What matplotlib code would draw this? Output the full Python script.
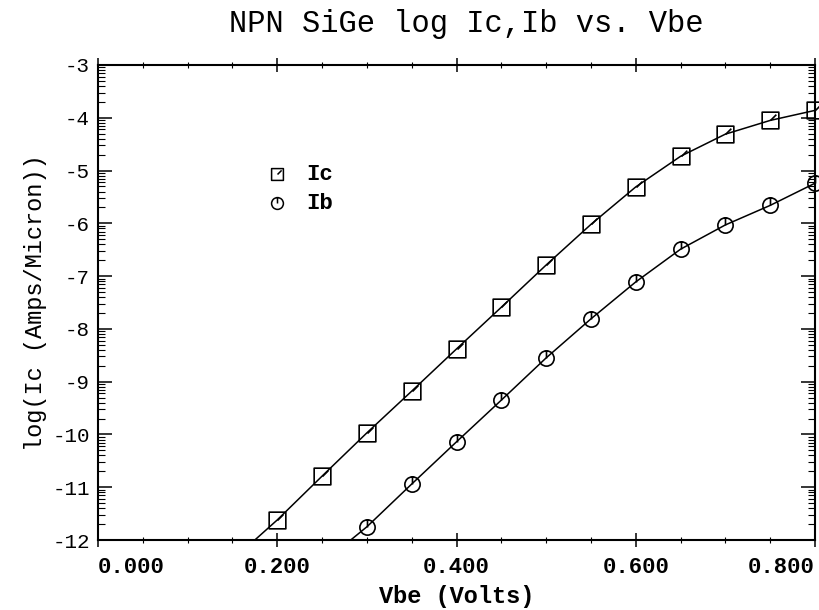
import numpy as np
import matplotlib
matplotlib.use("Agg")
import matplotlib.pyplot as plt
from matplotlib.ticker import FixedLocator, MultipleLocator
from matplotlib.path import Path

# Data
vbe_ic = [0.20, 0.25, 0.30, 0.35, 0.40, 0.45, 0.50, 0.55, 0.60, 0.65, 0.70, 0.75, 0.80]
log_ic = [-11.62, -10.79, -9.97, -9.18, -8.38, -7.59, -6.79, -6.02, -5.31, -4.73, -4.31, -4.05, -3.86]

vbe_ib = [0.30, 0.35, 0.40, 0.45, 0.50, 0.55, 0.60, 0.65, 0.70, 0.75, 0.80]
log_ib = [-11.75, -10.94, -10.14, -9.35, -8.55, -7.81, -7.11, -6.49, -6.03, -5.66, -5.24]

# curve continues below the first marker down to the axis
vbe_ic_start = [0.175]
log_ic_start = [-12.0]
vbe_ib_start = [0.282]
log_ib_start = [-12.0]

xticks = [0.0, 0.2, 0.4, 0.6, 0.8]
xticklabels = ["0.000", "0.200", "0.400", "0.600", "0.800"]
yticks = [-12, -11, -10, -9, -8, -7, -6, -5, -4, -3]

plt.rcParams['font.family'] = ['Liberation Mono', 'DejaVu Sans Mono']

# markers with the small inner tick seen in the reference
sq = Path.unit_rectangle()
sq = Path(sq.vertices - 0.5, sq.codes)
sq_marker = Path.make_compound_path(sq, Path([(0, 0), (0.35, 0.35)], [Path.MOVETO, Path.LINETO]))
circ = Path.unit_circle()
circ_marker = Path.make_compound_path(circ, Path([(0, 0), (0, 1)], [Path.MOVETO, Path.LINETO]))

fig = plt.figure(figsize=(8.19, 6.10), dpi=100)
ax = fig.add_axes([98/819, 1-540/610, (815-98)/819, (540-65)/610])

ax.plot(vbe_ic_start + vbe_ic, log_ic_start + log_ic, color='black', lw=1.1, zorder=2)
ax.plot(vbe_ib_start + vbe_ib, log_ib_start + log_ib, color='black', lw=1.1, zorder=2)
ax.plot(vbe_ic, log_ic, ls='none', marker=sq_marker, ms=12, mfc='none', mec='black', mew=1.2,
        clip_on=False, zorder=3)
ax.plot(vbe_ib, log_ib, ls='none', marker=circ_marker, ms=11, mfc='none', mec='black', mew=1.2,
        clip_on=False, zorder=3)

ax.set_xlim(0.0, 0.8)
ax.set_ylim(-12, -3)

ax.set_xticks(xticks)
ax.set_xticklabels(xticklabels, fontsize=16, fontweight='bold')
labs = ax.get_xticklabels()
labs[0].set_ha('left')
labs[-1].set_ha('right')
ax.xaxis.set_minor_locator(MultipleLocator(0.05))
ax.set_yticks(yticks)
ax.set_yticklabels([str(t) for t in yticks], fontsize=15)
minor_y = [d + np.log10(k) for d in range(-12, -3) for k in range(2, 10)]
ax.yaxis.set_minor_locator(FixedLocator(minor_y))

ax.tick_params(axis='x', which='major', direction='inout', length=10, width=1.1, top=True)
ax.tick_params(axis='x', which='minor', direction='inout', length=5, width=0.8, top=True)
ax.tick_params(axis='y', which='major', direction='in', length=10, width=1.1, right=True)
ax.tick_params(axis='y', which='minor', direction='in', length=5, width=0.8, right=True)
ax.tick_params(axis='x', pad=7.5)
ax.tick_params(axis='y', pad=6)
for s in ax.spines.values():
    s.set_linewidth(1.5)

ax.set_xlabel("Vbe (Volts)", fontsize=17, fontweight='bold', labelpad=5)
ax.set_ylabel("log(Ic (Amps/Micron))", fontsize=17, labelpad=4)
fig.text(466/819, 1-32/610, "NPN SiGe log Ic,Ib vs. Vbe", ha='center', va='baseline', fontsize=22)

# legend
ax.plot([0.2], [-5.07], marker=sq_marker, ms=8.5, mfc='none', mec='black', mew=1.1, ls='none')
ax.plot([0.2], [-5.62], marker=circ_marker, ms=8.5, mfc='none', mec='black', mew=1.1, ls='none')
ax.text(0.232, -5.07, "Ic", fontsize=16, fontweight='bold', va='center')
ax.text(0.232, -5.62, "Ib", fontsize=16, fontweight='bold', va='center')

fig.savefig("out.png", dpi=100)
